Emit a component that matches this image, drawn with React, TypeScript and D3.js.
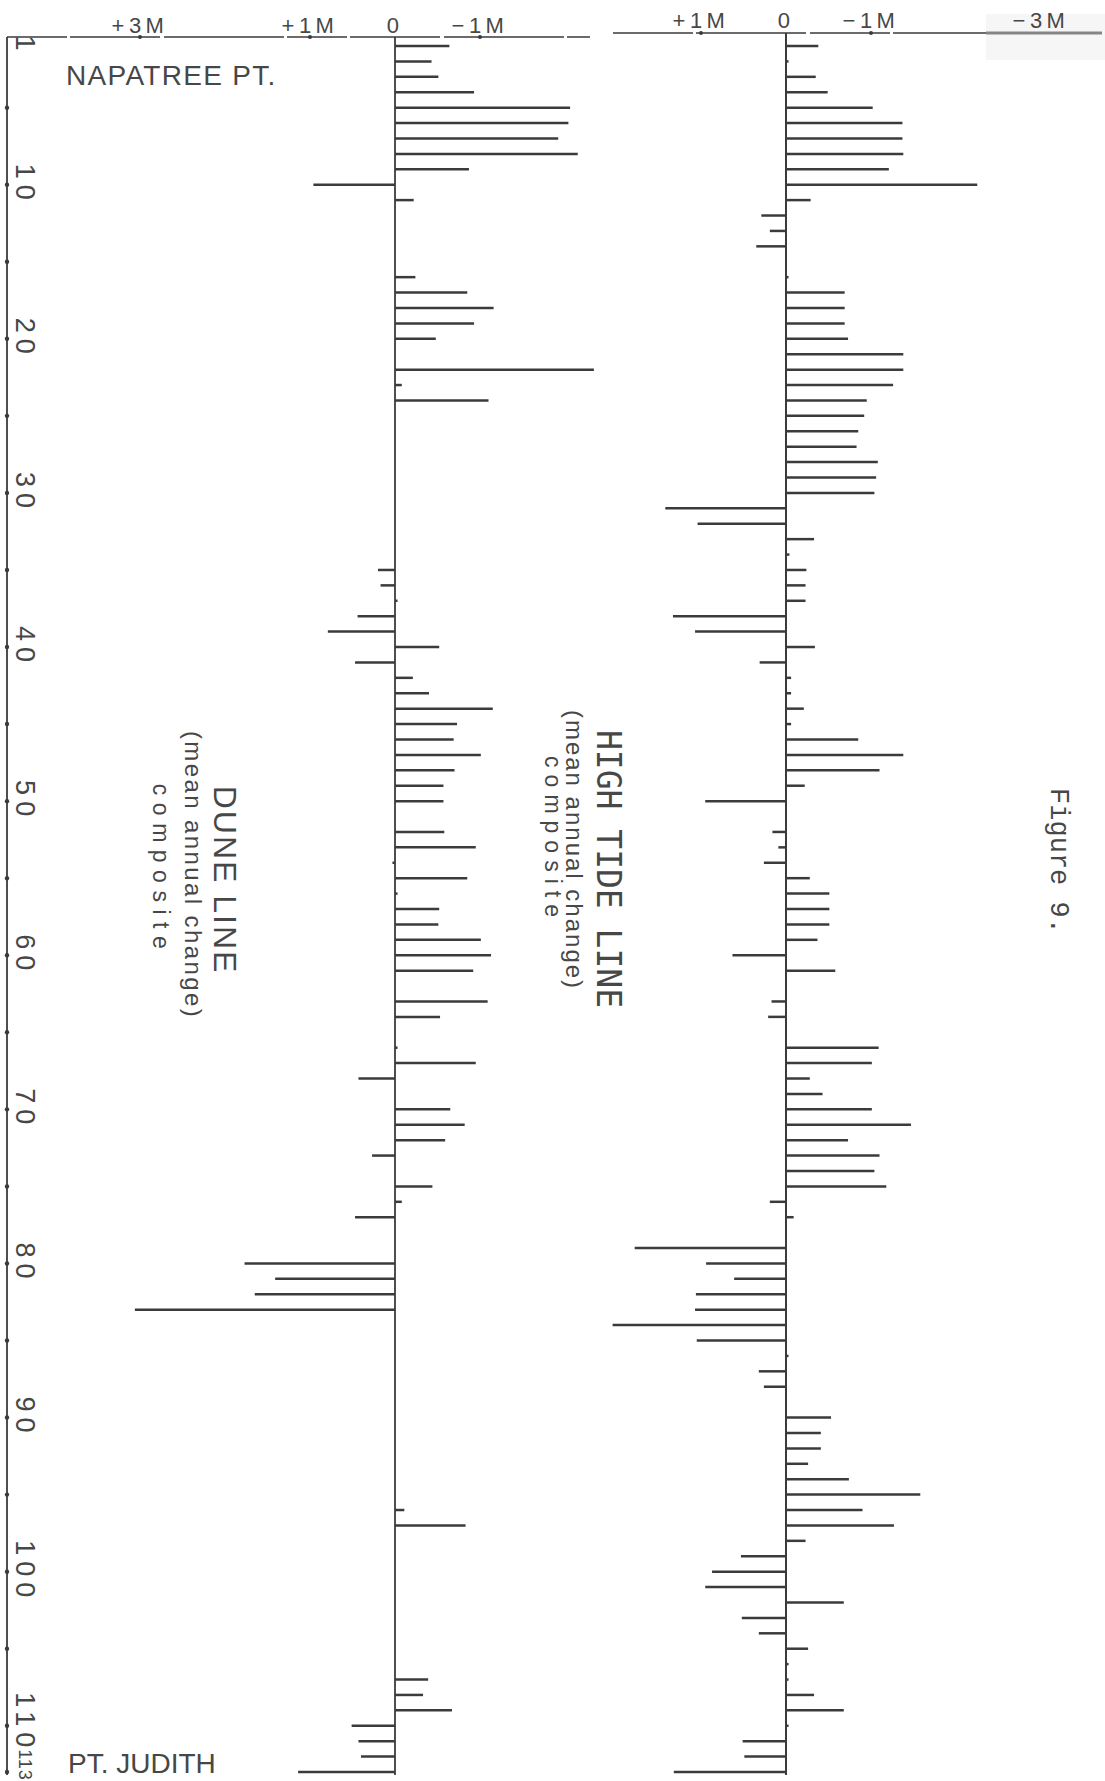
import React from "react";
import * as d3 from "d3";

// ---- DATA (mean annual change, metres; + = accretion, - = erosion) ----
const transects: number[] = d3.range(1, 114);

const duneChange: number[] = [
  -0.64, -0.43, -0.51, -0.93, -2.06, -2.04, -1.92, -2.15, -0.87, 0.96,
  -0.22, 0, 0, 0, 0, -0.24, -0.85, -1.16, -0.93, -0.48,
  0, -2.34, -0.08, -1.1, 0, 0, 0, 0, 0, 0,
  0, 0, 0, 0, 0.2, 0.17, -0.03, 0.44, 0.79, -0.52,
  0.47, -0.21, -0.4, -1.15, -0.73, -0.69, -1.01, -0.7, -0.57, -0.57,
  0, -0.58, -0.95, 0.03, -0.85, -0.03, -0.52, -0.51, -1.01, -1.13,
  -0.92, 0, -1.09, -0.53, 0, -0.03, -0.95, 0.43, 0, -0.65,
  -0.82, -0.59, 0.27, 0, -0.44, -0.08, 0.47, 0, 0, 1.77,
  1.41, 1.65, 3.06, 0, 0, 0, 0, 0, 0, 0,
  0, 0, 0, 0, 0, -0.11, -0.83, 0, 0, 0,
  0, 0, 0, 0, 0, 0, -0.39, -0.33, -0.67, 0.51,
  0.43, 0.4, 1.14,
];

const highTideChange: number[] = [
  -0.38, -0.03, -0.35, -0.49, -1.02, -1.37, -1.37, -1.38, -1.21, -2.25,
  -0.29, 0.29, 0.19, 0.35, 0, -0.03, -0.69, -0.69, -0.69, -0.73,
  -1.38, -1.38, -1.26, -0.95, -0.92, -0.85, -0.83, -1.08, -1.06, -1.04,
  1.42, 1.04, -0.33, -0.04, -0.24, -0.23, -0.23, 1.33, 1.07, -0.34,
  0.31, -0.06, -0.06, -0.21, -0.06, -0.85, -1.38, -1.1, -0.22, 0.95,
  0, 0.16, 0.09, 0.26, -0.28, -0.51, -0.51, -0.51, -0.37, 0.63,
  -0.58, 0, 0.17, 0.21, 0, -1.09, -1.01, -0.28, -0.43, -1.01,
  -1.47, -0.73, -1.1, -1.04, -1.18, 0.19, -0.09, 0, 1.78, 0.94,
  0.61, 1.06, 1.07, 2.04, 1.05, -0.03, 0.32, 0.26, 0, -0.53,
  -0.41, -0.41, -0.26, -0.74, -1.58, -0.9, -1.27, -0.23, 0.53, 0.87,
  0.95, -0.68, 0.52, 0.32, -0.26, -0.03, -0.03, -0.33, -0.68, -0.03,
  0.51, 0.49, 1.32,
];

const transectTickLabels: number[] = [1, 10, 20, 30, 40, 50, 60, 70, 80, 90, 100, 110, 113];
const transectTickDots: number[] = [5, 10, 15, 20, 25, 30, 35, 40, 45, 50, 55, 60, 65, 70, 75, 80, 85, 90, 95, 100, 105, 110, 113];

const duneAxisTicks: number[] = [3, 1, 0, -1];
const duneAxisLabels: string[] = ["+3M", "+1M", "0", "−1M"];
const tideAxisTicks: number[] = [1, 0, -1, -3];
const tideAxisLabels: string[] = ["+1M", "0", "−1M", "−3M"];

const W = 1105;
const H = 1781;

export default function App() {
  const y = d3.scaleLinear().domain([1, 113]).range([46, 1772]);
  const xDune = d3.scaleLinear().domain([3, -3]).range([140, 650]);
  const xTide = d3.scaleLinear().domain([3, -3]).range([531, 1041]);

  const ink = "#3b3b3b";
  const textInk = "#474747";
  const sans = "'Liberation Sans', Arial, sans-serif";

  const bars = (vals: number[], x: d3.ScaleLinear<number, number>, key: string) =>
    vals.map((v, i) =>
      v === 0 ? null : (
        <line
          key={key + i}
          x1={x(0)}
          x2={x(v)}
          y1={y(transects[i])}
          y2={y(transects[i])}
          stroke={ink}
          strokeWidth={2.5}
        />
      )
    );

  const bottom = y(113) + 3;

  return (
    <svg
      width={W}
      height={H}
      viewBox={`0 0 ${W} ${H}`}
      style={{ position: "absolute", left: 0, top: 0, display: "block", background: "#ffffff" }}
    >
      <rect x={0} y={0} width={W} height={H} fill="#ffffff" />
      <rect x={986} y={14} width={119} height={46} fill="#f6f6f6" />

      {/* frame: left transect axis and top lines */}
      <line x1={7} x2={7} y1={37} y2={bottom} stroke={ink} strokeWidth={1.8} />
      <line x1={7} x2={590} y1={37} y2={37} stroke={ink} strokeWidth={1.6} strokeDasharray="60 3 90 4 120 3" />
      <line x1={613} x2={986} y1={33} y2={33} stroke={ink} strokeWidth={1.6} strokeDasharray="80 3 110 4" />
      <line x1={986} x2={1102} y1={33} y2={33} stroke="#858585" strokeWidth={3} />

      {/* zero axes */}
      <line x1={xDune(0)} x2={xDune(0)} y1={37} y2={bottom} stroke={ink} strokeWidth={1.8} />
      <line x1={xTide(0)} x2={xTide(0)} y1={33} y2={bottom} stroke={ink} strokeWidth={2} />

      {/* transect tick dots and labels */}
      {transectTickDots.map((t) => (
        <circle key={"d" + t} cx={7} cy={y(t)} r={2.2} fill={ink} />
      ))}
      {transectTickLabels.map((t) => {
        const small = t === 113;
        const cy = t === 113 ? y(t) - 7 : t === 110 ? y(t) - 3 : y(t);
        return (
          <text
            key={"l" + t}
            transform={`translate(${small ? 19 : 16},${cy}) rotate(90)`}
            textAnchor="middle"
            fontFamily={sans}
            fontSize={small ? 18 : 27}
            letterSpacing={small ? 1 : 6}
            fill={textInk}
          >
            {String(t)}
          </text>
        );
      })}

      {/* top scale labels */}
      {duneAxisTicks.map((v, i) => (
        <g key={"dt" + i}>
          {v !== 0 && <circle cx={xDune(v)} cy={37} r={2} fill={ink} />}
          <text x={xDune(v)} y={33} textAnchor="middle" fontFamily={sans} fontSize={22} letterSpacing={4.5} fill={textInk}>
            {duneAxisLabels[i]}
          </text>
        </g>
      ))}
      {tideAxisTicks.map((v, i) => (
        <g key={"tt" + i}>
          {v !== 0 && v !== -3 && <circle cx={xTide(v)} cy={33} r={2} fill={ink} />}
          <text x={xTide(v)} y={28} textAnchor="middle" fontFamily={sans} fontSize={22} letterSpacing={4.5} fill={textInk}>
            {tideAxisLabels[i]}
          </text>
        </g>
      ))}

      {/* bars */}
      {bars(duneChange, xDune, "dune")}
      {bars(highTideChange, xTide, "tide")}

      {/* place names */}
      <text x={66} y={85} fontFamily={sans} fontSize={28} letterSpacing={1.3} fill={textInk}>
        NAPATREE PT.
      </text>
      <text x={68} y={1773} fontFamily={sans} fontSize={28} fill={textInk}>
        PT. JUDITH
      </text>

      {/* dune line titles */}
      <text transform="translate(214,880) rotate(90)" textAnchor="middle" fontFamily={sans} fontSize={32} letterSpacing={2} fill={textInk}>
        DUNE LINE
      </text>
      <text transform="translate(185,875) rotate(90)" textAnchor="middle" fontFamily={sans} fontSize={24} letterSpacing={2.4} fill={textInk}>
        (mean annual change)
      </text>
      <text transform="translate(153,870) rotate(90)" textAnchor="middle" fontFamily={sans} fontSize={23} letterSpacing={7.5} fill={textInk}>
        composite
      </text>

      {/* high tide line titles */}
      <text transform="translate(597,869) rotate(90)" textAnchor="middle" fontFamily="'DejaVu Sans Mono', monospace" fontSize={33} fill={textInk}>
        HIGH TIDE LINE
      </text>
      <text transform="translate(566,850) rotate(90)" textAnchor="middle" fontFamily={sans} fontSize={24} letterSpacing={2} fill={textInk}>
        (mean annual change)
      </text>
      <text transform="translate(545,840) rotate(90)" textAnchor="middle" fontFamily={sans} fontSize={23} letterSpacing={7} fill={textInk}>
        composite
      </text>

      <text transform="translate(1051,861) rotate(90)" textAnchor="middle" fontFamily="'Liberation Mono', 'Courier New', monospace" fontSize={27} fill={textInk}>
        Figure 9.
      </text>
    </svg>
  );
}
